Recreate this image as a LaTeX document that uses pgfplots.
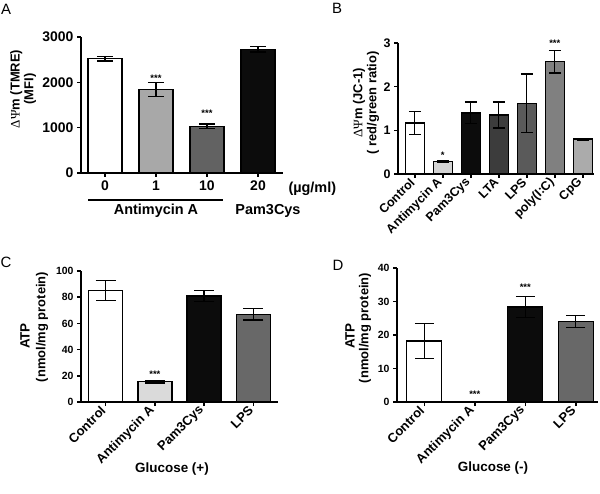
\documentclass[border=0pt]{standalone}
\usepackage{pgfplots}
\pgfplotsset{compat=1.18}
\usepackage{fontspec}
\setmainfont{Liberation Sans}
\newfontfamily\symfont{Liberation Serif}
\definecolor{aL}{HTML}{A8A8A8}
\definecolor{aD}{HTML}{626262}
\definecolor{bk}{HTML}{0C0C0C}
\definecolor{bAnt}{HTML}{D3D3D3}
\definecolor{bLTA}{HTML}{3C3C3C}
\definecolor{bLPS}{HTML}{5A5A5A}
\definecolor{bPol}{HTML}{808080}
\definecolor{bCpG}{HTML}{ABABAB}
\definecolor{cAnt}{HTML}{DADADA}
\definecolor{cLPS}{HTML}{686868}
\newcommand\fs[1]{\bfseries\fontsize{#1}{#1}\selectfont}
\pgfplotsset{
  gp/.style={
    scale only axis, anchor=south west,
    axis lines=left, axis line style={-, line width=1.5bp},
    tick align=outside, major tick length=4bp,
    tick style={line width=1.5bp, black},
    enlargelimits=false, clip=false, ymin=0,
    /pgf/number format/assume math mode=true,
    /pgf/number format/1000 sep={},
  },
  rot/.style={xticklabel style={rotate=45, anchor=east, font=\fs{#1}}},
}
\newcommand\gbar[6]{\addplot[ybar, bar width=#1, bar shift=0pt, fill=#2, draw=black, line width=1.4bp,
  error bars/.cd, y dir=both, y explicit,
  error bar style={line width=1.3bp, black},
  error mark options={rotate=90, mark size=#3, line width=1.3bp, black}]
  coordinates {(#4,#5) +- (0,#6)};}
\newcommand\stars{\fs{9.5}}
\begin{document}
\begin{tikzpicture}
\useasboundingbox (0,0) rectangle (600bp,494bp);
% ---------------- Panel A
\begin{axis}[gp, at={(81bp,321bp)}, width=202bp, height=136bp,
  xmin=-0.47, xmax=3.49, ymax=3000,
  tick label style={font=\fs{14}},
  xtick={0,1,2,3}, xticklabels={0,1,10,20}, ytick={0,1000,2000,3000}]
\gbar{34bp}{white}{8bp}{0}{2520}{50}
\gbar{34bp}{aL}{8bp}{1}{1840}{150}
\gbar{34bp}{aD}{8bp}{2}{1030}{50}
\gbar{34bp}{bk}{8bp}{3}{2730}{60}
\node[font=\stars] at (axis cs:1,2100) {***};
\node[font=\stars] at (axis cs:2,1320) {***};
\end{axis}
\node[font=\fontsize{15}{15}\selectfont] at (6bp,485bp) {A};
\node[rotate=90, align=center, font=\fs{13}, text depth=0pt] at (15bp,405bp)
  {{\mdseries\symfont ΔΨ}m (TMRE)};
\node[rotate=90, font=\fs{13}] at (30bp,405bp) {(MFI)};
\node[anchor=west, font=\fs{14.5}] at (285bp,305bp) {(µg/ml)};
\draw[line width=1.5bp] (88bp,294bp) -- (223bp,294bp);
\node[font=\fs{14.5}] at (156bp,283bp) {Antimycin A};
\node[font=\fs{14.5}] at (268bp,283bp) {Pam3Cys};
% ---------------- Panel B
\begin{axis}[gp, rot=12.5, at={(398bp,320bp)}, width=196bp, height=131bp,
  xmin=-0.6, xmax=6.4, ymax=3,
  yticklabel style={font=\fs{12.5}},
  xtick={0,1,2,3,4,5,6},
  xticklabels={Control,Antimycin A,Pam3Cys,LTA,LPS,poly(I:C),CpG},
  ytick={0,1,2,3}]
\gbar{19bp}{white}{6bp}{0}{1.17}{0.26}
\gbar{19bp}{bAnt}{6bp}{1}{0.28}{0.02}
\gbar{19bp}{bk}{6bp}{2}{1.40}{0.25}
\gbar{19bp}{bLTA}{6bp}{3}{1.35}{0.30}
\gbar{19bp}{bLPS}{6bp}{4}{1.62}{0.67}
\gbar{19bp}{bPol}{6bp}{5}{2.57}{0.26}
\gbar{19bp}{bCpG}{6bp}{6}{0.80}{0.02}
\node[font=\stars] at (axis cs:1,0.43) {*};
\node[font=\stars] at (axis cs:5,3.0) {***};
\end{axis}
\node[font=\fontsize{15}{15}\selectfont] at (337bp,486bp) {B};
\node[rotate=90, font=\fs{13}] at (359bp,391bp) {{\mdseries\symfont ΔΨ}m (JC-1)};
\node[rotate=90, font=\fs{13}] at (373bp,391bp) {( red/green ratio)};
% ---------------- Panel C
\begin{axis}[gp, rot=13, at={(81bp,92bp)}, width=197bp, height=131bp,
  xmin=-0.5, xmax=3.5, ymax=100,
  yticklabel style={font=\fs{10.5}},
  xtick={0,1,2,3}, xticklabels={Control,Antimycin A,Pam3Cys,LPS},
  ytick={0,20,40,60,80,100}]
\gbar{34bp}{white}{10bp}{0}{85}{7.5}
\gbar{34bp}{cAnt}{10bp}{1}{15.5}{1}
\gbar{34bp}{bk}{10bp}{2}{81}{4.3}
\gbar{34bp}{cLPS}{10bp}{3}{67}{4.5}
\node[font=\stars] at (axis cs:1,21.4) {***};
\end{axis}
\node[font=\fontsize{15}{15}\selectfont] at (6bp,232bp) {C};
\node[rotate=90, font=\fs{13.5}] at (25bp,158bp) {ATP};
\node[rotate=90, font=\fs{13}] at (42bp,167bp) {(nmol/mg protein)};
\node[font=\fs{13.5}] at (172bp,25bp) {Glucose (+)};
% ---------------- Panel D
\begin{axis}[gp, rot=13, at={(397bp,92bp)}, width=201bp, height=134bp,
  xmin=-0.54, xmax=3.44, ymax=40,
  yticklabel style={font=\fs{10.5}},
  xtick={0,1,2,3}, xticklabels={Control,Antimycin A,Pam3Cys,LPS},
  ytick={0,10,20,30,40}]
\gbar{35bp}{white}{9.5bp}{0}{18.2}{5.3}
\gbar{35bp}{cAnt}{9.5bp}{1}{0.1}{0}
\gbar{35bp}{bk}{9.5bp}{2}{28.4}{3.1}
\gbar{35bp}{cLPS}{9.5bp}{3}{24.0}{1.8}
\node[font=\stars] at (axis cs:2,34.3) {***};
\node[font=\stars] at (axis cs:1,2.4) {***};
\end{axis}
\node[font=\fontsize{15}{15}\selectfont] at (338bp,229bp) {D};
\node[rotate=90, font=\fs{13.5}] at (350bp,158bp) {ATP};
\node[rotate=90, font=\fs{13}] at (365bp,166bp) {(nmol/mg protein)};
\node[font=\fs{13.5}] at (493bp,26bp) {Glucose (-)};
\end{tikzpicture}
\end{document}
